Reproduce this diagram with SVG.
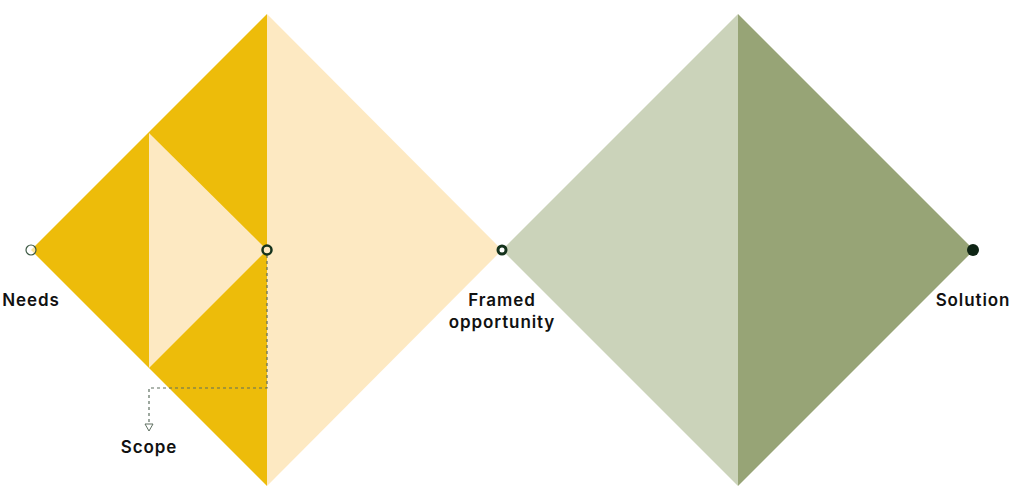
<svg xmlns="http://www.w3.org/2000/svg" width="1012" height="500" viewBox="0 0 1012 500">
<style>
.lbl{font-family:Inter,"Open Sans","Liberation Sans",sans-serif;font-weight:600;font-size:17px;letter-spacing:0.9px;fill:#111;text-anchor:middle}
.dy{fill:#EDBC0A}
.ly{fill:#FDE9C2}
.lg{fill:#CBD3BA}
.dg{fill:#97A476}
.dash{fill:none;stroke:#5E6F60;stroke-width:1.2;stroke-dasharray:3 3}
</style>
<defs>
<marker id="arr" markerWidth="10" markerHeight="10" refX="8" refY="5" orient="auto" markerUnits="userSpaceOnUse" viewBox="0 0 10 10">
<path d="M1,1 L8,5 L1,9 Z" fill="#fff" stroke="#5E6F60" stroke-width="1"/>
</marker>
</defs>
<rect width="1012" height="500" fill="#fff"/>
<g id="diamond-discover">
<polygon class="dy" points="31,250 267,14 267,486"/>
<polygon class="ly" points="267,14 502,250 267,486"/>
<polygon class="ly" points="149,133 267,250 149,368"/>
</g>
<g id="diamond-deliver">
<polygon class="lg" points="502,250 738,14 738,486"/>
<polygon class="dg" points="738,14 974,250 738,486"/>
</g>
<g id="connectors">
<path class="dash" d="M267,255 V388 H149 V431" marker-end="url(#arr)"/>
</g>
<g id="node-needs">
<circle cx="31" cy="250" r="5" fill="#fff" fill-opacity="0.6" stroke="#3E5A45" stroke-width="1.2"/>
<text class="lbl" x="31" y="306">Needs</text>
</g>
<g id="node-scope">
<circle cx="267" cy="250" r="4.5" fill="#FDE9C2" stroke="#14321C" stroke-width="2.5"/>
<text class="lbl" x="149" y="453">Scope</text>
</g>
<g id="node-framed">
<circle cx="502" cy="250" r="4" fill="#fff" stroke="#14321C" stroke-width="3"/>
<text class="lbl" x="502" y="306">Framed</text>
<text class="lbl" x="502" y="328">opportunity</text>
</g>
<g id="node-solution">
<circle cx="973" cy="250" r="6" fill="#0E2414"/>
<text class="lbl" x="973" y="306">Solution</text>
</g>
</svg>
